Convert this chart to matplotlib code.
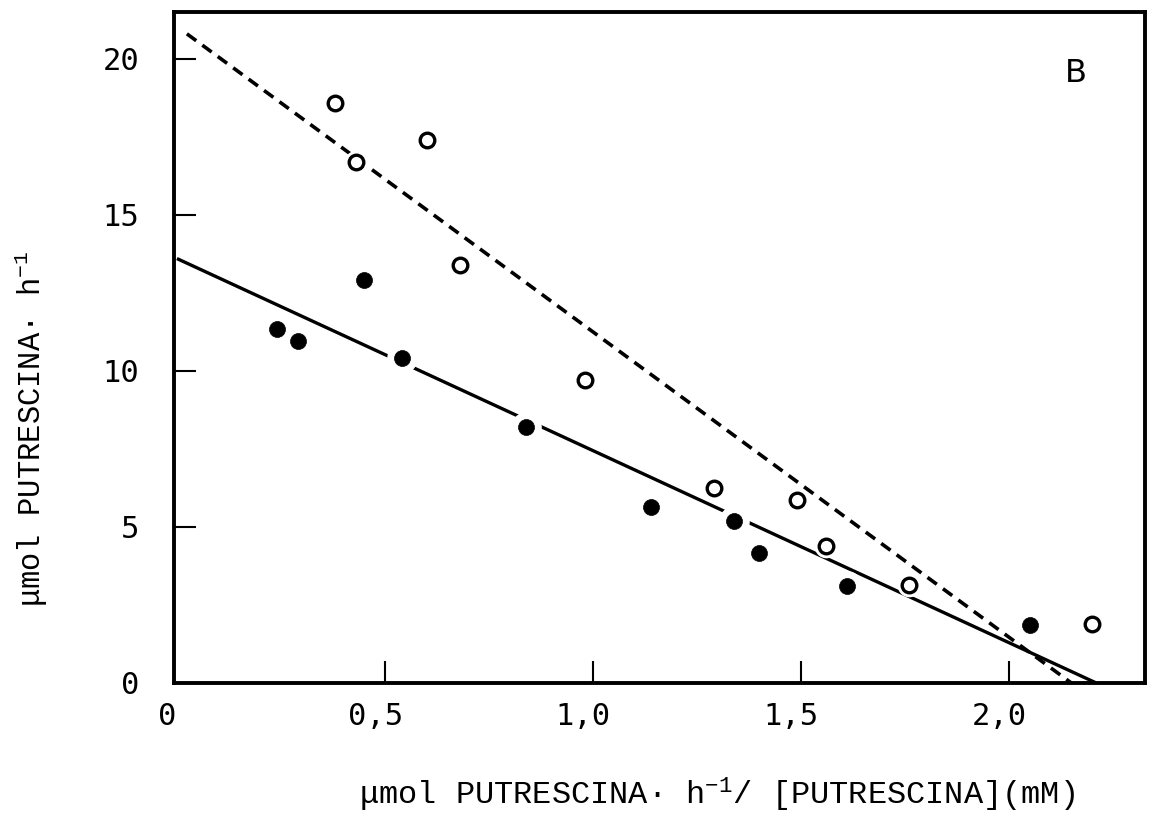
import matplotlib.pyplot as plt
from matplotlib.transforms import ScaledTranslation

# Eadie-Hofstee plot, panel B
open_x = [0.38, 0.43, 0.60, 0.68, 0.98, 1.29, 1.49, 1.56, 1.76, 2.20]
open_y = [18.6, 16.7, 17.4, 13.4, 9.7, 6.25, 5.85, 4.4, 3.15, 1.9]
filled_x = [0.24, 0.29, 0.45, 0.54, 0.84, 1.14, 1.34, 1.40, 1.61, 2.05]
filled_y = [11.35, 10.95, 12.9, 10.4, 8.2, 5.65, 5.2, 4.15, 3.1, 1.85]

# fitted lines (end points)
dashed_x = [0.024, 2.15]
dashed_y = [20.8, 0.0]
solid_x = [0.0, 2.21]
solid_y = [13.6, 0.0]

xticks = [0, 0.5, 1.0, 1.5, 2.0]
xticklabels = ['0', '0,5', '1,0', '1,5', '2,0']
yticks = [0, 5, 10, 15, 20]

W, H = 1157, 818
fig = plt.figure(figsize=(W / 100, H / 100), dpi=100)
ax = fig.add_axes([174 / W, 1 - 683 / H, (1145 - 174) / W, (683 - 12) / H])

ax.plot(solid_x, solid_y, color='black', lw=2.4, solid_capstyle='butt', zorder=2)
ax.plot(dashed_x, dashed_y, color='black', lw=2.6, dashes=(3.2, 2.1), zorder=2)

# white halos leave small gaps in the lines around the points
ax.plot(filled_x, filled_y, 'o', ms=21, mfc='white', mec='white', zorder=3)
ax.plot(open_x, open_y, 'o', ms=16, mfc='white', mec='white', zorder=3)
ax.plot(filled_x, filled_y, 'o', ms=11.5, mfc='black', mec='black', mew=0.5, zorder=4)
ax.plot(open_x, open_y, 'o', ms=10.5, mfc='white', mec='black', mew=2.4, zorder=4)

ax.set_xlim(-0.007, 2.327)
ax.set_ylim(0, 21.5)

for s in ax.spines.values():
    s.set_linewidth(2.8)

ax.set_xticks(xticks)
ax.set_xticklabels(xticklabels)
ax.set_yticks(yticks)
ax.tick_params(direction='in', length=16, width=1.5, top=False, right=False)
ax.tick_params(axis='x', pad=14)
ax.tick_params(axis='y', pad=25)
ax.xaxis.get_major_ticks()[0].tick1line.set_visible(False)
ax.yaxis.get_major_ticks()[0].tick1line.set_visible(False)

shift = ScaledTranslation(-7 / 72, 0, fig.dpi_scale_trans)
for lab in ax.get_xticklabels():
    lab.set_transform(lab.get_transform() + shift)
for lab in ax.get_xticklabels() + ax.get_yticklabels():
    lab.set_family('DejaVu Sans Mono')
    lab.set_fontsize(22)

plt.rcParams['mathtext.fontset'] = 'custom'
plt.rcParams['mathtext.rm'] = 'Liberation Mono'
plt.rcParams['mathtext.it'] = 'Liberation Mono'

fig.text(0.027, 0.476, 'μmol PUTRESCINA· h$^{-1}$', rotation=90,
         ha='center', va='center', family='Liberation Mono', fontsize=22)
fig.text(0.62, 0.028, 'μmol PUTRESCINA· h$^{-1}$/ [PUTRESCINA](mM)',
         ha='center', va='center', family='Liberation Mono', fontsize=23)

ax.text(0.929, 0.908, 'B', transform=ax.transAxes, ha='center', va='center',
        family='DejaVu Sans', fontsize=23)

fig.savefig('out.png', dpi=100)
